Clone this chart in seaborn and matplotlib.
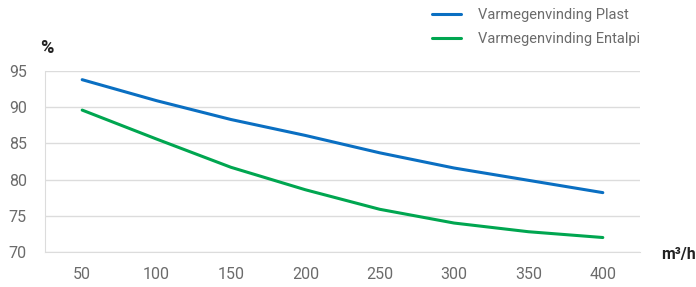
import pandas as pd
import seaborn as sns
import matplotlib.pyplot as plt

# airflow (m3/h) and heat recovery (%)
airflow = [50, 100, 150, 200, 250, 300, 350, 400]
plast = [93.8, 90.9, 88.3, 86.1, 83.7, 81.6, 79.9, 78.2]
entalpi = [89.6, 85.6, 81.7, 78.6, 75.9, 74.0, 72.8, 72.0]
series_names = ['Varmegenvinding Plast', 'Varmegenvinding Entalpi']
y_ticks = [70, 75, 80, 85, 90, 95]


def main():
    sns.set_style('white')
    plt.rcParams['font.family'] = ['Roboto', 'DejaVu Sans']

    df = pd.DataFrame({
        'airflow': airflow * 2,
        'value': plast + entalpi,
        'serie': [series_names[0]] * len(airflow) + [series_names[1]] * len(airflow),
    })

    fig = plt.figure(figsize=(6.96, 2.87), dpi=100)
    ax = fig.add_axes([45 / 696, 1 - 252 / 287, 595 / 696, 181 / 287])

    sns.lineplot(
        data=df,
        x='airflow',
        y='value',
        hue='serie',
        palette=['#0a6fc2', '#00a650'],
        linewidth=2.2,
        ax=ax,
        legend=False,
    )

    grid_col = '#dcdcdc'
    text_col = '#6b6b6b'
    ax.set_xlim(25, 425)
    ax.set_ylim(70, 95)
    ax.set_xticks(airflow)
    ax.set_yticks(y_ticks)
    ax.yaxis.grid(True, color=grid_col, linewidth=1)
    ax.set_axisbelow(True)
    for side in ['top', 'right']:
        ax.spines[side].set_visible(False)
    ax.spines['left'].set_color(grid_col)
    ax.spines['bottom'].set_color(grid_col)
    ax.tick_params(axis='both', colors=grid_col, length=7, width=1,
                   labelcolor=text_col, labelsize=11.5)
    ax.tick_params(axis='y', pad=6)
    ax.tick_params(axis='x', pad=4)
    ax.set_xlabel('')
    ax.set_ylabel('')

    fig.text(40 / 696, 1 - 48 / 287, '%', fontsize=13, fontweight='bold',
             color='#222222', va='center', ha='left')
    fig.text(661 / 696, 1 - 254 / 287, 'm³/h', fontsize=11.5, fontweight='bold',
             color='#222222', va='center', ha='left')

    handles = [plt.Line2D([], [], color=c, linewidth=2.2) for c in ['#0a6fc2', '#00a650']]
    fig.legend(handles, series_names, loc='upper left',
               bbox_to_anchor=(432 / 696, 1 - 8 / 287), frameon=False,
               borderpad=0, borderaxespad=0, handlelength=2.0,
               handletextpad=1.15, labelspacing=0.7, fontsize=10.5,
               labelcolor=text_col)

    fig.savefig('out.png', dpi=100)


if __name__ == '__main__':
    main()
